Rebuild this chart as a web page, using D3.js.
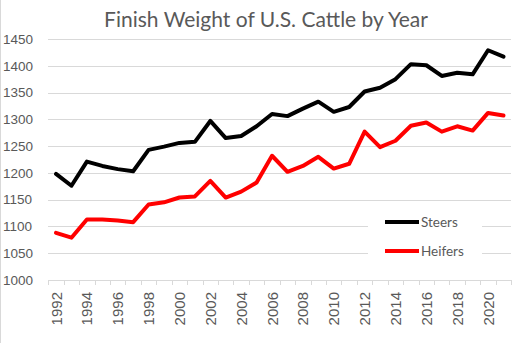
<!DOCTYPE html>
<html><head><meta charset="utf-8">
<script src="https://cdn.jsdelivr.net/npm/d3@7"></script>
<style>body{margin:0;background:#fff}svg{display:block}</style>
</head><body>
<script>
const years = d3.range(1992, 2022);
const steers = [1198,1176,1221,1213,1207,1203,1243,1249,1256,1258,1297,1265,1269,1287,1310,1306,1320,1333,1314,1323,1352,1359,1375,1403,1401,1381,1387,1384,1429,1417];
const heifers = [1088,1079,1113,1113,1111,1108,1141,1145,1154,1156,1185,1154,1165,1182,1232,1202,1213,1230,1208,1217,1277,1248,1260,1288,1294,1277,1287,1279,1312,1307];
const yTicks = [1000,1050,1100,1150,1200,1250,1300,1350,1400,1450];
const xTickLabels = years.filter(y => y % 2 === 0);
const seriesNames = ["Steers","Heifers"];
const colors = ["#000000","#ff0000"];

const W = 512, H = 343;
const svg = d3.select("body").append("svg").attr("width", W).attr("height", H);
const txt = "#595959", grid = "#d9d9d9";

const x = d3.scaleBand().domain(years).range([48.3, 511.2]);
const y = d3.scaleLinear().domain([1000, 1450]).range([280, 39]);

svg.append("line").attr("x1",0.5).attr("x2",0.5).attr("y1",0).attr("y2",H).attr("stroke",grid);

// gridlines
svg.append("g").selectAll("line").data(yTicks.slice(1)).join("line")
  .attr("x1", 48).attr("x2", 511).attr("y1", d => Math.round(y(d))+0.5).attr("y2", d => Math.round(y(d))+0.5)
  .attr("stroke", grid).attr("stroke-width", 1);

// y labels
svg.append("g").selectAll("text").data(yTicks).join("text")
  .attr("x", 3).attr("y", d => y(d)).attr("dy", "0.35em")
  .attr("font-family", "Liberation Sans, Arial, sans-serif").attr("font-size", 13.5).attr("fill", txt)
  .text(d => d);

// x axis
const xa = svg.append("g");
xa.append("line").attr("x1", 48).attr("x2", 511).attr("y1", 280.5).attr("y2", 280.5).attr("stroke", grid);
xa.selectAll("line.t").data(years.concat([2022])).join("line").attr("class","t")
  .attr("x1", d => Math.round(d===2022 ? x.range()[1] : x(d))+0.5)
  .attr("x2", d => Math.round(d===2022 ? x.range()[1] : x(d))+0.5)
  .attr("y1", 280).attr("y2", 285).attr("stroke", grid);
xa.selectAll("text").data(xTickLabels).join("text")
  .attr("transform", d => `translate(${x(d)+x.bandwidth()/2+5.5},292) rotate(-90)`)
  .attr("text-anchor", "end")
  .attr("font-family", "Liberation Sans, Arial, sans-serif").attr("font-size", 15).attr("fill", txt)
  .text(d => d);

// lines
const line = d3.line().x((d,i) => x(years[i]) + x.bandwidth()/2).y(d => y(d));
[steers, heifers].forEach((s, i) => {
  svg.append("path").datum(s).attr("d", line).attr("fill","none")
    .attr("stroke", colors[i]).attr("stroke-width", 4).attr("stroke-linejoin","round").attr("stroke-linecap","round");
});

// legend
const lg = svg.append("g");
lg.append("rect").attr("x", 368).attr("y", 205).attr("width", 114).attr("height", 62).attr("fill", "#fff");
seriesNames.forEach((n, i) => {
  const ly = 222 + i*29;
  lg.append("line").attr("x1", 385).attr("x2", 419).attr("y1", ly).attr("y2", ly)
    .attr("stroke", colors[i]).attr("stroke-width", 4);
  lg.append("text").attr("x", 421).attr("y", ly).attr("dy","0.35em")
    .attr("font-family", "Lato, sans-serif").attr("font-size", 13.5).attr("fill", txt).text(n);
});

// title
svg.append("text").attr("x", 266).attr("y", 27).attr("text-anchor","middle")
  .attr("font-family", "Lato, sans-serif").attr("font-size", 21).attr("fill", txt)
  .text("Finish Weight of U.S. Cattle by Year");
</script>
</body></html>
